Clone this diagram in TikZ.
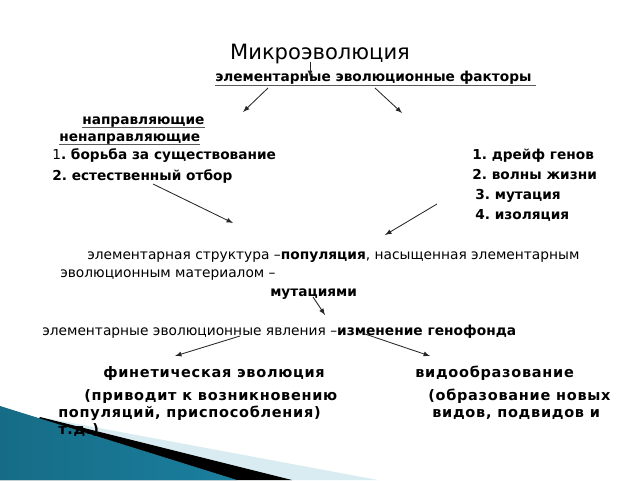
\documentclass[tikz,border=0pt]{standalone}
\usepackage{fontspec}
\setmainfont{DejaVu Sans}
\usetikzlibrary{positioning}

\definecolor{tealdark}{HTML}{1A7F9E}
\definecolor{teallight}{HTML}{5DB7D6}
\definecolor{paleblue}{HTML}{D8ECF2}

\begin{document}
\frenchspacing
\begin{tikzpicture}[
    txt/.style={anchor=base west, inner sep=0pt, font=\fontsize{9.8}{12}\selectfont},
    bld/.style={txt, font=\fontsize{9.75}{12}\selectfont\bfseries},
    wide/.style={txt, font=\fontsize{10.3}{12}\selectfont\bfseries\addfontfeature{LetterSpace=5}},
    uline/.style={draw, line width=1.1pt, color=black!65},
    arr/.style={draw, -latex, semithick, color=black!85}
]
\useasboundingbox (0,0) rectangle (16,12);

% Bottom corner decoration
\fill[paleblue] (0,0) -- (1.0,1.575) -- (9.45,0) -- cycle;
\fill[black] (0,0) -- (1.0,1.575) -- (7.3,0) -- cycle;
\shade[left color=tealdark!85!black, middle color=teallight, right color=tealdark]
    (0,0) -- (0,1.85) -- (5.925,0) -- cycle;

% Title and factors
\node[anchor=base, inner sep=0pt, font=\fontsize{15}{18}\selectfont] (micro) at (8.0, 10.5) {Микроэволюция};
\node[bld] (factors) at (5.375, 9.95) {элементарные эволюционные факторы};
\draw[uline] ([yshift=-2.6pt]factors.base west) -- ([xshift=3pt, yshift=-2.6pt]factors.base east);

% Directing factors
\node[bld] (dir) at (2.05, 8.9) {направляющие};
\node[bld] (nondir) at (1.475, 8.475) {ненаправляющие};
\draw[uline] ([yshift=-2.6pt]dir.base west) -- ([yshift=-2.6pt]dir.base east);
\draw[uline] ([yshift=-2.6pt]nondir.base west) -- ([yshift=-2.6pt]nondir.base east);
\node[bld] (dirA) at (1.3, 8.025) {{\mdseries 1}. борьба за существование};
\node[bld] (dirB) at (1.3, 7.5) {2. естественный отбор};

% Non-directing factors
\node[bld] (ndA) at (11.8, 8.025) {1. дрейф генов};
\node[bld] (ndB) at (11.8, 7.525) {2. волны жизни};
\node[bld] (ndC) at (11.875, 7.025) {3. мутация};
\node[bld] (ndD) at (11.875, 6.525) {4. изоляция};

% Population
\node[txt] (struct) at (2.175, 5.525) {элементарная структура –\textbf{популяция}, насыщенная элементарным};
\node[txt] (mater) at (1.5, 5.075) {эволюционным материалом –};
\node[bld] (mutat) at (6.75, 4.6) {мутациями};

% Phenomena
\node[txt] (phen) at (1.05, 3.625) {элементарные эволюционные явления –\textbf{изменение генофонда}};
\node[wide] (phenet) at (2.575, 2.575) {финетическая эволюция};
\node[wide] (speci) at (10.375, 2.575) {видообразование};
\node[wide] (phenA) at (2.1, 2.0) {(приводит к возникновению};
\node[wide] (phenB) at (1.45, 1.575) {популяций, приспособления)};
\node[wide] (phenC) at (1.45, 1.15) {т.д.)};
\node[wide] (speciA) at (10.7, 2.0) {(образование новых};
\node[wide] (speciB) at (10.8, 1.575) {видов, подвидов и};

% Arrow ends
\coordinate (a0) at (7.75, 10.45);   \coordinate (b0) at (7.75, 10.075);
\coordinate (a1) at (6.7, 9.8);      \coordinate (b1) at (6.075, 9.2);
\coordinate (a2) at (9.375, 9.8);    \coordinate (b2) at (10.05, 9.175);
\coordinate (a3) at (3.825, 7.4);    \coordinate (b3) at (5.825, 6.425);
\coordinate (a4) at (10.925, 6.9);   \coordinate (b4) at (9.625, 6.125);
\coordinate (a5) at (7.825, 4.575);  \coordinate (b5) at (8.125, 4.125);
\coordinate (a6) at (6.0, 3.6);      \coordinate (b6) at (4.375, 3.1);
\coordinate (a7) at (9.125, 3.65);   \coordinate (b7) at (10.75, 3.1);

% Draw arrows
\draw[arr] (a0) -- (b0);
\draw[arr] (a1) -- (b1);
\draw[arr] (a2) -- (b2);
\draw[arr] (a3) -- (b3);
\draw[arr] (a4) -- (b4);
\draw[arr] (a5) -- (b5);
\draw[arr] (a6) -- (b6);
\draw[arr] (a7) -- (b7);

\end{tikzpicture}
\end{document}
